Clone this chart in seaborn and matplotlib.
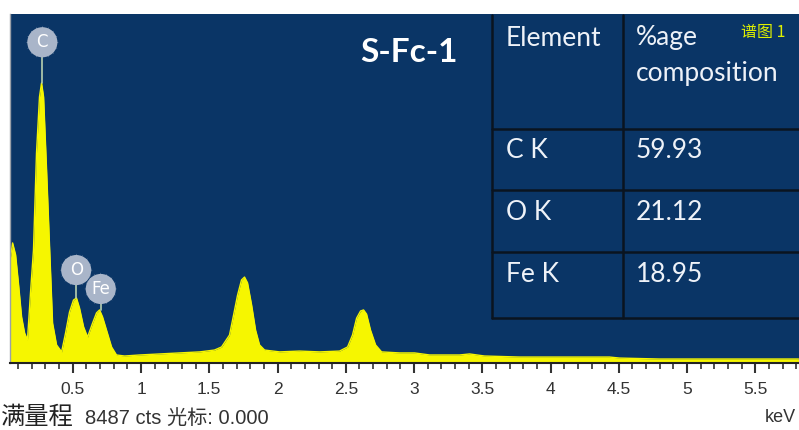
import numpy as np
import pandas as pd
import matplotlib.pyplot as plt
import matplotlib.ticker as mticker
import seaborn as sns

# EDS spectrum (energy in keV, counts)
energy = [0.022, 0.044, 0.059, 0.081, 0.103, 0.125, 0.147, 0.168, 0.190, 0.212,
          0.234, 0.256, 0.271, 0.286, 0.308, 0.330, 0.352, 0.381, 0.418, 0.447,
          0.476, 0.505, 0.527, 0.549, 0.579, 0.608, 0.645, 0.674, 0.696, 0.718,
          0.747, 0.784, 0.820, 0.879, 0.989, 1.136, 1.282, 1.429, 1.538, 1.590,
          1.648, 1.678, 1.707, 1.736, 1.758, 1.780, 1.810, 1.839, 1.868, 1.905,
          2.015, 2.161, 2.308, 2.454, 2.513, 2.549, 2.579, 2.608, 2.630, 2.652,
          2.681, 2.718, 2.762, 2.894, 3.004, 3.114, 3.333, 3.407, 3.516, 3.773,
          4.066, 4.432, 4.505, 4.799, 5.092, 5.385, 5.678, 5.817]
counts = [2750, 2580, 2920, 2630, 1900, 1120, 730, 560, 1700, 2750,
          5100, 6470, 6810, 6470, 4690, 2820, 970, 440, 270, 730,
          1240, 1530, 1580, 1340, 880, 630, 970, 1220, 1290, 1120,
          800, 390, 195, 170, 195, 220, 245, 270, 315, 390,
          680, 1170, 1650, 2020, 2090, 1950, 1410, 800, 440, 315,
          270, 290, 270, 290, 390, 680, 1090, 1265, 1290, 1190,
          800, 440, 270, 245, 245, 195, 195, 220, 170, 145,
          145, 145, 120, 97, 97, 97, 97, 97]

full_scale = 8487

# peak labels
peak_names = ['C', 'O', 'Fe']
peak_kev = [0.277, 0.525, 0.705]
peak_top = [6810, 1580, 1290]
label_y = [7800, 2260, 1800]

# composition table
elements = ['C K', 'O K', 'Fe K']
composition = ['59.93', '21.12', '18.95']

df = pd.DataFrame({'keV': energy, 'cts': counts})

navy = '#0a3566'
yellow = '#f6f600'

sns.set_style('white')
plt.rcParams['font.family'] = ['Noto Sans CJK SC', 'DejaVu Sans']

fig = plt.figure(figsize=(7.99, 4.30), dpi=100)
ax = fig.add_axes([10 / 799, 67 / 430, 1 - 10 / 799, 349 / 430])
ax.set_facecolor(navy)

sns.lineplot(data=df, x='keV', y='cts', ax=ax, color=yellow, lw=1)
ax.fill_between(df['keV'], df['cts'], color=yellow, lw=0)

ax.set_xlim(0.04, 5.82)
ax.set_ylim(0, full_scale)
ax.set_xlabel('')
ax.set_ylabel('')
ax.set_yticks([])
ax.xaxis.set_major_locator(mticker.MultipleLocator(0.5))
ax.xaxis.set_minor_locator(mticker.MultipleLocator(0.1))
ax.xaxis.set_major_formatter(mticker.FuncFormatter(lambda v, p: f'{v:g}'))
ax.tick_params(axis='x', which='major', direction='out', length=7, width=1.5,
               color='#333333', labelsize=12.5, labelcolor='#333333', pad=7,
               bottom=True)
ax.tick_params(axis='x', which='minor', direction='out', length=4, width=1.2,
               color='#333333', bottom=True)
ax.tick_params(axis='x', labelfontfamily='Liberation Sans')
for s in ['top', 'right']:
    ax.spines[s].set_visible(False)
ax.spines['bottom'].set_color('#222222')
ax.spines['bottom'].set_linewidth(1.5)
ax.spines['left'].set_color('#9aa0a8')
ax.spines['left'].set_linewidth(1)

# element label badges
for name, kev, top, ly in zip(peak_names, peak_kev, peak_top, label_y):
    ax.plot([kev, kev], [top, ly], color='#b8d0b0', lw=1.2, zorder=4)
    ax.scatter([kev], [ly], s=560, marker=(16, 1, 0), color='#a9b5c9',
               edgecolor='none', zorder=5)
    ax.scatter([kev], [ly], s=470, marker='o', color='#a9b5c9',
               edgecolor='none', zorder=5)
    ax.text(kev, ly, name, color='white', fontsize=12, ha='center',
            va='center', family='DejaVu Sans', zorder=6)

# sample title
fig.text(409 / 799, 1 - 52 / 430, 'S-Fc-1', color='white', fontsize=24,
         fontweight='bold', family='Lato', ha='center', va='center')

# composition table drawn in figure pixels
def fx(px):
    return px / 799

def fy(py):
    return 1 - py / 430

line_kw = dict(color='#0a1420', lw=1.8, transform=fig.transFigure,
               clip_on=False)
for py in [129, 190, 252, 318]:
    fig.add_artist(plt.Line2D([fx(492), fx(800)], [fy(py), fy(py)], **line_kw))
for px in [492, 623]:
    fig.add_artist(plt.Line2D([fx(px), fx(px)], [fy(15), fy(318)], **line_kw))

tkw = dict(color='#eef2f8', fontsize=19, family='Lato', va='center',
           ha='left')
fig.text(fx(506), fy(38), 'Element', **tkw)
fig.text(fx(636), fy(38), '%age', **tkw)
fig.text(fx(636), fy(73), 'composition', **tkw)
for i, (el, comp) in enumerate(zip(elements, composition)):
    yy = [150, 212, 274][i]
    fig.text(fx(506), fy(yy), el, **tkw)
    fig.text(fx(636), fy(yy), comp, **tkw)

fig.text(fx(741), fy(32), '谱图 1', color='#dff000', fontsize=11.5,
         va='center', ha='left')

# footer
fig.text(fx(1), fy(417), '满量程', fontsize=17.5, color='#222222',
         va='center', ha='left')
fig.text(fx(85), fy(418), '8487 cts 光标: 0.000', fontsize=14.5,
         color='#333333', va='center', ha='left',
         family=['Liberation Sans', 'Noto Sans CJK SC'])
fig.text(fx(765), fy(418), 'keV', fontsize=13, color='#333333',
         va='center', ha='left', family='Liberation Sans')

fig.savefig('out.png', dpi=100, facecolor='white')
